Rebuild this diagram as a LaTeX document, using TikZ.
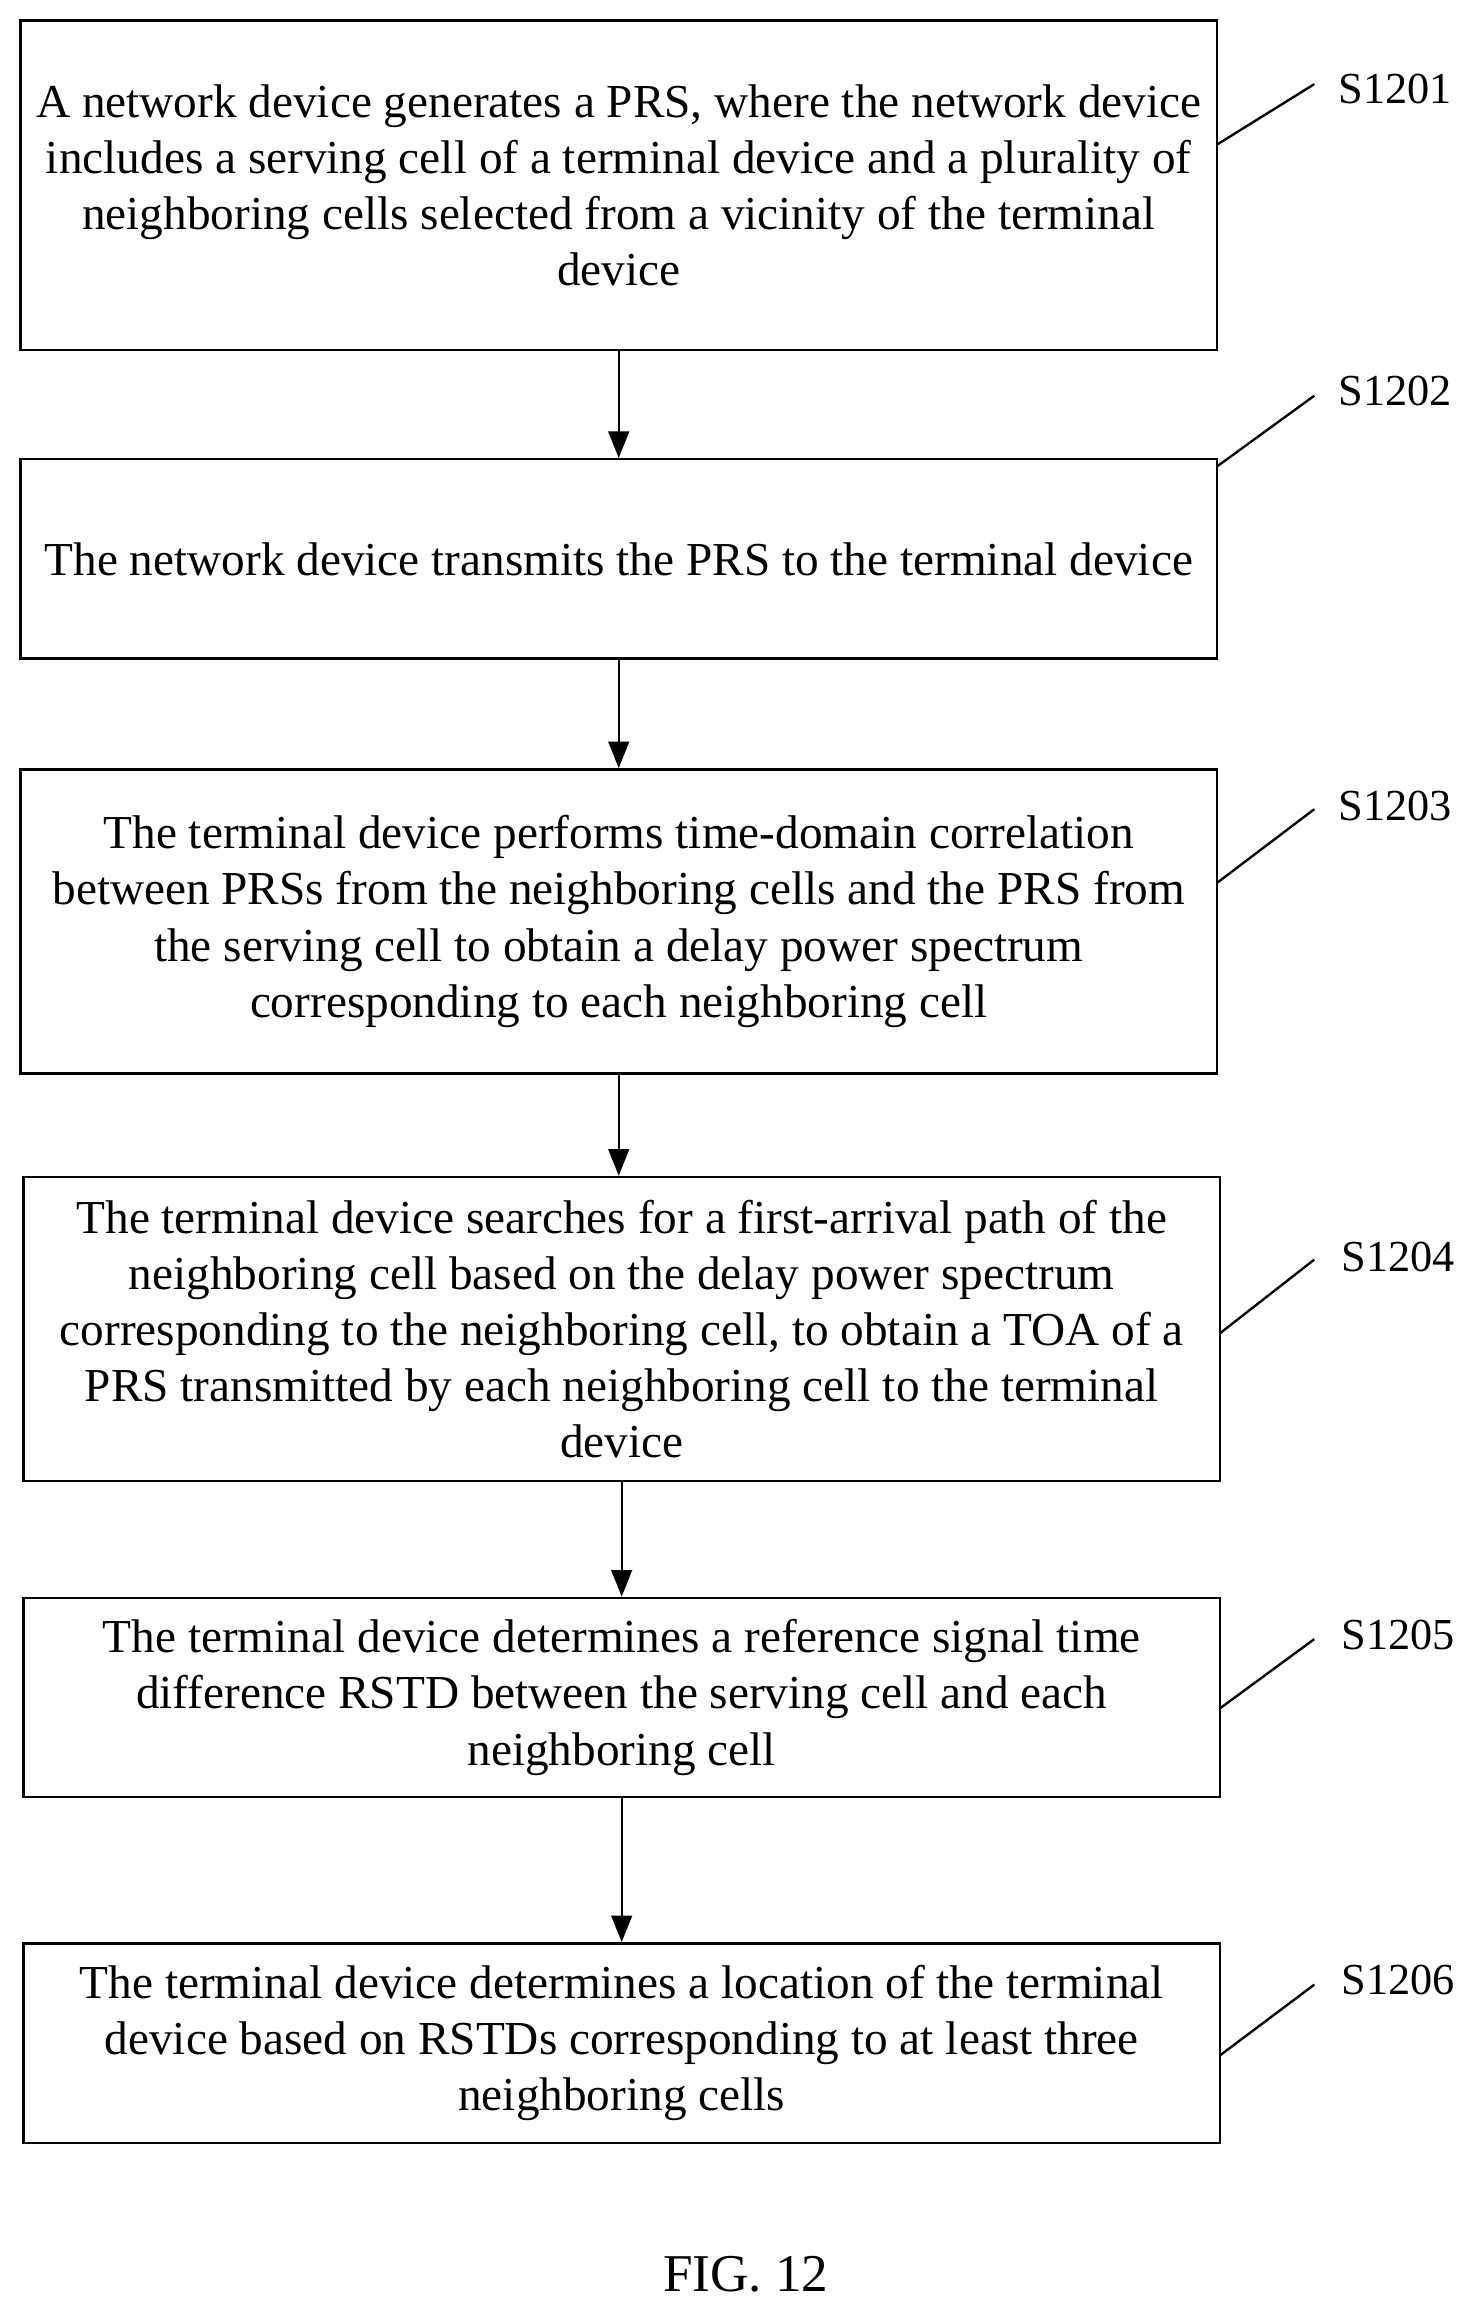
\documentclass[tikz,border=0pt]{standalone}
\usepackage{fontspec}
\setmainfont{Liberation Serif}
\usetikzlibrary{arrows.meta}
\begin{document}
\begin{tikzpicture}[x=1pt,y=-1pt,
 box/.style={draw,line width=1.6pt,minimum width=810pt,align=center,inner sep=0pt,font=\fontsize{32}{38}\selectfont},
 lab/.style={font=\fontsize{30}{34}\selectfont,anchor=center},
 arr/.style={-{Triangle[length=18pt,width=14pt]},line width=1.6pt},
 ln/.style={line width=1.6pt}]
\useasboundingbox (0,0) rectangle (1000,1565);
\node[box,minimum height=223pt] (b1) at (419,125.5) {A network device generates a PRS, where the network device\\ includes a serving cell of a terminal device and a plurality of\\ neighboring cells selected from a vicinity of the terminal\\ device};
\node[box,minimum height=135pt] (b2) at (419,378.5) {The network device transmits the PRS to the terminal device};
\node[box,minimum height=206pt] (b3) at (419,624) {The terminal device performs time-domain correlation\\ between PRSs from the neighboring cells and the PRS from\\ the serving cell to obtain a delay power spectrum\\ corresponding to each neighboring cell};
\node[box,minimum height=206pt] (b4) at (421,900) {The terminal device searches for a first-arrival path of the\\ neighboring cell based on the delay power spectrum\\ corresponding to the neighboring cell, to obtain a TOA of a\\ PRS transmitted by each neighboring cell to the terminal\\ device};
\node[box,minimum height=135pt] (b5) at (421,1149.5) {The terminal device determines a reference signal time\\ difference RSTD between the serving cell and each\\ neighboring cell};
\node[box,minimum height=135pt] (b6) at (421,1383.5) {The terminal device determines a location of the terminal\\ device based on RSTDs corresponding to at least three\\ neighboring cells};
\draw[arr] (b1.south) -- (b1.south |- b2.north);
\draw[arr] (b2.south) -- (b2.south |- b3.north);
\draw[arr] (b3.south) -- (b3.south |- b4.north);
\draw[arr] (b4.south) -- (b4.south |- b5.north);
\draw[arr] (b5.south) -- (b5.south |- b6.north);
\node[lab] (l1) at (945,60) {S1201};
\node[lab] (l2) at (945,265) {S1202};
\node[lab] (l3) at (945,546) {S1203};
\node[lab] (l4) at (947,851) {S1204};
\node[lab] (l5) at (947,1107) {S1205};
\node[lab] (l6) at (947,1341) {S1206};
\coordinate (c1) at (824,98); \coordinate (d1) at (890,57);
\coordinate (c2) at (824,316); \coordinate (d2) at (890,268);
\coordinate (c3) at (824,598); \coordinate (d3) at (890,548);
\coordinate (c4) at (826,903); \coordinate (d4) at (890,853);
\coordinate (c5) at (826,1157); \coordinate (d5) at (890,1110);
\coordinate (c6) at (826,1392); \coordinate (d6) at (890,1344);
\foreach \i in {1,...,6}{\draw[ln] (c\i) -- (d\i);}
\node[font=\fontsize{36}{40}\selectfont] (fig) at (505,1540) {FIG. 12};
\end{tikzpicture}
\end{document}
